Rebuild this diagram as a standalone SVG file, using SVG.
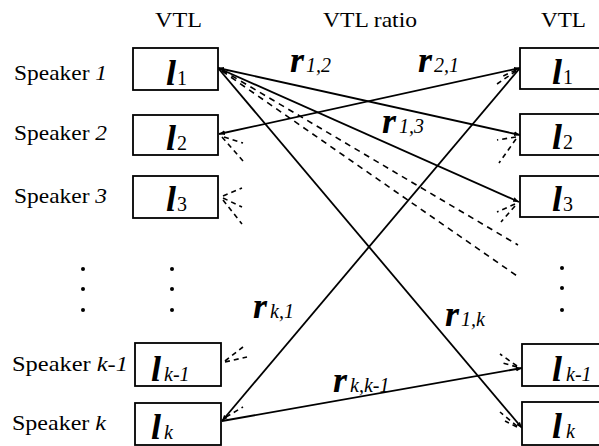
<svg xmlns="http://www.w3.org/2000/svg" width="599" height="446" viewBox="0 0 599 446" font-family="'Liberation Serif', 'DejaVu Serif', serif">
<style>
text{font-family:'Liberation Serif','DejaVu Serif',serif;fill:#000}
.hd{font-size:21px}
.sp{font-size:21px}
.it{font-style:italic}
.lv{font-size:36px;font-style:italic;font-weight:bold}
.sub{font-size:20px}
.subi{font-size:20px;font-style:italic}
.rv{font-size:36px;font-style:italic;font-weight:bold}
.box{fill:#fff;stroke:#000;stroke-width:1.8}
.ln{stroke:#000;stroke-width:1.8;fill:none}
.ds{stroke:#000;stroke-width:1.6;fill:none;stroke-dasharray:6 5}
.st{stroke:#000;stroke-width:1.6;fill:none;stroke-dasharray:5 4}
.dot{fill:#000}
</style>
<defs>
<marker id="ah" viewBox="0 0 10 10" refX="10" refY="5" markerWidth="6" markerHeight="6" markerUnits="userSpaceOnUse" orient="auto-start-reverse">
<path d="M0,1 L10,5 L0,9 Z" fill="#000"/>
</marker>
</defs>

<g id="headers">
<text class="hd" x="155" y="27" textLength="47" lengthAdjust="spacingAndGlyphs">VTL</text>
<text class="hd" x="323" y="27" textLength="94" lengthAdjust="spacingAndGlyphs">VTL ratio</text>
<text class="hd" x="541" y="27" textLength="45" lengthAdjust="spacingAndGlyphs">VTL</text>
</g>

<g id="speakers">
<text class="sp" x="14" y="80" textLength="93" lengthAdjust="spacingAndGlyphs">Speaker <tspan class="it">1</tspan></text>
<text class="sp" x="14" y="140" textLength="93" lengthAdjust="spacingAndGlyphs">Speaker <tspan class="it">2</tspan></text>
<text class="sp" x="14" y="203" textLength="93" lengthAdjust="spacingAndGlyphs">Speaker <tspan class="it">3</tspan></text>
<text class="sp" x="12" y="371" textLength="116" lengthAdjust="spacingAndGlyphs">Speaker <tspan class="it">k-1</tspan></text>
<text class="sp" x="12" y="430" textLength="94" lengthAdjust="spacingAndGlyphs">Speaker <tspan class="it">k</tspan></text>
</g>

<g id="connectors">
<line class="ln" x1="218" y1="68" x2="520" y2="135" marker-start="url(#ah)" marker-end="url(#ah)"/>
<line class="ln" x1="218" y1="68" x2="519" y2="202" marker-end="url(#ah)"/>
<line class="ln" x1="218" y1="68" x2="522" y2="428" marker-end="url(#ah)"/>
<line class="ln" x1="520" y1="68" x2="219" y2="134" marker-start="url(#ah)" marker-end="url(#ah)"/>
<line class="ln" x1="222" y1="421" x2="520" y2="68" marker-start="url(#ah)"/>
<line class="ln" x1="222" y1="421" x2="522" y2="368" marker-end="url(#ah)"/>
<line class="ds" x1="222" y1="70" x2="518" y2="245"/>
<line class="ds" x1="222" y1="71" x2="520" y2="278"/>
<line class="st" x1="222" y1="137" x2="243" y2="161"/>
<line class="st" x1="224" y1="137" x2="243" y2="143"/>
<line class="st" x1="223" y1="196" x2="242" y2="188"/>
<line class="st" x1="223" y1="198" x2="242" y2="207"/>
<line class="st" x1="223" y1="200" x2="242" y2="224"/>
<line class="st" x1="225" y1="361" x2="243" y2="347"/>
<line class="st" x1="225" y1="362" x2="247" y2="357"/>
<line class="st" x1="226" y1="417" x2="243" y2="407"/>
<line class="st" x1="516" y1="71" x2="497" y2="84"/>
<line class="st" x1="516" y1="70" x2="501" y2="77"/>
<line class="st" x1="516" y1="137" x2="497" y2="140"/>
<line class="st" x1="516" y1="139" x2="499" y2="163"/>
<line class="st" x1="515" y1="204" x2="497" y2="212"/>
<line class="st" x1="515" y1="206" x2="501" y2="222"/>
<line class="st" x1="517" y1="366" x2="500" y2="354"/>
<line class="st" x1="517" y1="367" x2="503" y2="363"/>
<line class="st" x1="517" y1="426" x2="500" y2="412"/>
<line class="st" x1="517" y1="427" x2="505" y2="421"/>
</g>

<g id="ratio-labels">
<text x="290" y="72"><tspan class="rv">r</tspan><tspan class="subi" dx="2">1,2</tspan></text>
<text x="418" y="72"><tspan class="rv">r</tspan><tspan class="subi" dx="2">2,1</tspan></text>
<text x="382" y="133"><tspan class="rv">r</tspan><tspan class="subi" dx="3">1,3</tspan></text>
<text x="253" y="318"><tspan class="rv">r</tspan><tspan class="subi" dx="3">k,1</tspan></text>
<text x="445" y="326"><tspan class="rv">r</tspan><tspan class="subi" dx="2">1,k</tspan></text>
<text x="333" y="392"><tspan class="rv">r</tspan><tspan class="subi" dx="3">k,k-1</tspan></text>
</g>

<g id="left-l1"><rect class="box" x="133" y="48" width="85" height="42"/><text x="166" y="85"><tspan class="lv">l</tspan><tspan class="sub" dx="1">1</tspan></text></g>
<g id="left-l2"><rect class="box" x="133" y="115" width="85" height="40"/><text x="166" y="150"><tspan class="lv">l</tspan><tspan class="sub" dx="1">2</tspan></text></g>
<g id="left-l3"><rect class="box" x="133" y="176" width="85" height="42"/><text x="166" y="211"><tspan class="lv">l</tspan><tspan class="sub" dx="1">3</tspan></text></g>
<g id="left-lk1"><rect class="box" x="135" y="343" width="86" height="43"/><text x="151" y="381"><tspan class="lv">l</tspan><tspan class="subi" dx="3">k-1</tspan></text></g>
<g id="left-lk"><rect class="box" x="135" y="403" width="86" height="42"/><text x="151" y="439"><tspan class="lv">l</tspan><tspan class="subi" dx="3">k</tspan></text></g>

<g id="right-l1"><rect class="box" x="520" y="48" width="90" height="41"/><text x="552" y="84"><tspan class="lv">l</tspan><tspan class="sub" dx="1">1</tspan></text></g>
<g id="right-l2"><rect class="box" x="520" y="114" width="90" height="41"/><text x="552" y="149"><tspan class="lv">l</tspan><tspan class="sub" dx="1">2</tspan></text></g>
<g id="right-l3"><rect class="box" x="520" y="176" width="90" height="41"/><text x="552" y="211"><tspan class="lv">l</tspan><tspan class="sub" dx="1">3</tspan></text></g>
<g id="right-lk1"><rect class="box" x="522" y="344" width="90" height="42"/><text x="552" y="381"><tspan class="lv">l</tspan><tspan class="subi" dx="4">k-1</tspan></text></g>
<g id="right-lk"><rect class="box" x="522" y="402" width="90" height="43"/><text x="552" y="438"><tspan class="lv">l</tspan><tspan class="subi" dx="4">k</tspan></text></g>

<g id="ellipses">
<circle class="dot" cx="83" cy="269" r="2"/><circle class="dot" cx="83" cy="289" r="2"/><circle class="dot" cx="83" cy="310" r="2"/>
<circle class="dot" cx="172" cy="269" r="2"/><circle class="dot" cx="172" cy="289" r="2"/><circle class="dot" cx="172" cy="310" r="2"/>
<circle class="dot" cx="562" cy="268" r="2"/><circle class="dot" cx="562" cy="288" r="2"/><circle class="dot" cx="562" cy="310" r="2"/>
</g>
</svg>
